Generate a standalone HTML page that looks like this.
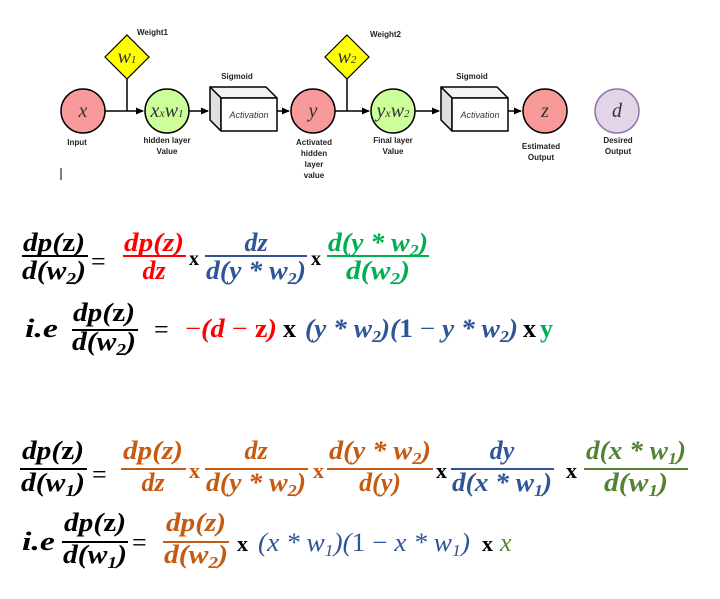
<!DOCTYPE html>
<html><head><meta charset="utf-8"><style>
body{margin:0;background:#fff;width:720px;height:599px;overflow:hidden}
svg{display:block}
.lb{font-family:"Liberation Sans",sans-serif;font-weight:bold;font-size:8px;fill:#222}
.m{font-family:"Liberation Serif",serif;font-weight:bold;font-style:italic;font-size:26px}
.u{font-style:normal}
.nd{font-family:"Liberation Serif",serif;font-style:italic;font-size:20px;fill:#333}
</style></head><body>
<svg width="720" height="599" viewBox="0 0 720 599" xmlns="http://www.w3.org/2000/svg">
<defs><marker id="ar" markerWidth="8" markerHeight="8" refX="7" refY="4" orient="auto" markerUnits="userSpaceOnUse"><path d="M0,0.5 L8,4 L0,7.5 Z" fill="#000"/></marker></defs>
<g stroke="#000" stroke-width="1.5" fill="none">
<line x1="105" y1="111" x2="143" y2="111" marker-end="url(#ar)"/>
<line x1="127" y1="79" x2="127" y2="111"/>
<line x1="189" y1="111" x2="208" y2="111" marker-end="url(#ar)"/>
<line x1="277" y1="111" x2="289" y2="111" marker-end="url(#ar)"/>
<line x1="335" y1="111" x2="369" y2="111" marker-end="url(#ar)"/>
<line x1="347" y1="79" x2="347" y2="111"/>
<line x1="415" y1="111" x2="439" y2="111" marker-end="url(#ar)"/>
<line x1="508" y1="111" x2="521" y2="111" marker-end="url(#ar)"/>
</g>
<circle cx="83" cy="111" r="22" fill="#f8999a" stroke="#000" stroke-width="1.5"/>
<text class="nd" x="83" y="117" text-anchor="middle">x</text>
<polygon points="127,35 149,57 127,79 105,57" fill="#ffff00" stroke="#000" stroke-width="1.2"/>
<text class="nd" x="127" y="63" text-anchor="middle" font-size="17">w<tspan font-size="11">1</tspan></text>
<circle cx="167" cy="111" r="22" fill="#ccff99" stroke="#000" stroke-width="1.5"/>
<text class="nd" x="167" y="117" text-anchor="middle" font-size="17">x<tspan font-size="12">x</tspan>w<tspan font-size="11">1</tspan></text>
<g stroke="#000" stroke-width="1.5" stroke-linejoin="round">
<polygon points="210,87 266,87 277,98 221,98" fill="#f2f2f2"/>
<polygon points="210,87 221,98 221,131 210,120" fill="#e0e0e0"/>
<rect x="221" y="98" width="56" height="33" fill="#fff"/>
<polygon points="441,87 497,87 508,98 452,98" fill="#f2f2f2"/>
<polygon points="441,87 452,98 452,131 441,120" fill="#e0e0e0"/>
<rect x="452" y="98" width="56" height="33" fill="#fff"/>
</g>
<text x="249" y="118" text-anchor="middle" font-family="Liberation Sans,sans-serif" font-style="italic" font-size="9" fill="#333">Activation</text>
<text x="480" y="118" text-anchor="middle" font-family="Liberation Sans,sans-serif" font-style="italic" font-size="9" fill="#333">Activation</text>
<circle cx="313" cy="111" r="22" fill="#f8999a" stroke="#000" stroke-width="1.5"/>
<text class="nd" x="313" y="117" text-anchor="middle">y</text>
<polygon points="347,35 369,57 347,79 325,57" fill="#ffff00" stroke="#000" stroke-width="1.2"/>
<text class="nd" x="347" y="63" text-anchor="middle" font-size="17">w<tspan font-size="11">2</tspan></text>
<circle cx="393" cy="111" r="22" fill="#ccff99" stroke="#000" stroke-width="1.5"/>
<text class="nd" x="393" y="117" text-anchor="middle" font-size="17">y<tspan font-size="12">x</tspan>w<tspan font-size="11">2</tspan></text>
<circle cx="545" cy="111" r="22" fill="#f8999a" stroke="#000" stroke-width="1.5"/>
<text class="nd" x="545" y="117" text-anchor="middle">z</text>
<circle cx="617" cy="111" r="22" fill="#e1d5e7" stroke="#9673a6" stroke-width="1.5"/>
<text class="nd" x="617" y="117" text-anchor="middle">d</text>
<text class="lb" x="137" y="35">Weight1</text>
<text class="lb" x="370" y="37">Weight2</text>
<text class="lb" x="237" y="79" text-anchor="middle">Sigmoid</text>
<text class="lb" x="472" y="79" text-anchor="middle">Sigmoid</text>
<text class="lb" x="77" y="145" text-anchor="middle">Input</text>
<text class="lb" x="167" y="143" text-anchor="middle">hidden layer</text>
<text class="lb" x="167" y="154" text-anchor="middle">Value</text>
<text class="lb" x="314" y="145" text-anchor="middle">Activated</text>
<text class="lb" x="314" y="156" text-anchor="middle">hidden</text>
<text class="lb" x="314" y="167" text-anchor="middle">layer</text>
<text class="lb" x="314" y="178" text-anchor="middle">value</text>
<text class="lb" x="393" y="143" text-anchor="middle">Final layer</text>
<text class="lb" x="393" y="154" text-anchor="middle">Value</text>
<text class="lb" x="541" y="149" text-anchor="middle">Estimated</text>
<text class="lb" x="541" y="160" text-anchor="middle">Output</text>
<text class="lb" x="618" y="143" text-anchor="middle">Desired</text>
<text class="lb" x="618" y="154" text-anchor="middle">Output</text>
<line x1="61" y1="168" x2="61" y2="180" stroke="#000" stroke-width="1"/>

<g class="m">
<text x="54" y="251" text-anchor="middle" fill="#000" textLength="62" lengthAdjust="spacingAndGlyphs">dp(<tspan class="u">z</tspan>)</text>
<rect x="22" y="255" width="66" height="2" fill="#000"/>
<text x="54" y="279" text-anchor="middle" fill="#000" textLength="64" lengthAdjust="spacingAndGlyphs">d(w<tspan font-size="17" dy="5">2</tspan><tspan dy="-5">)</tspan></text>
<text x="91" y="270" fill="#000" class="u" font-weight="normal">=</text>
<text x="154" y="251" text-anchor="middle" fill="#f00" textLength="60" lengthAdjust="spacingAndGlyphs">dp(z)</text>
<rect x="123" y="255" width="63" height="2" fill="#f00"/>
<text x="154" y="279" text-anchor="middle" fill="#f00">dz</text>
<text x="189" y="265" fill="#000" class="u" font-size="20">x</text>
<text x="256" y="251" text-anchor="middle" fill="#2f5597">dz</text>
<rect x="205" y="255" width="102" height="2" fill="#2f5597"/>
<text x="256" y="279" text-anchor="middle" fill="#2f5597" textLength="100" lengthAdjust="spacingAndGlyphs">d(y * w<tspan font-size="17" dy="5">2</tspan><tspan dy="-5">)</tspan></text>
<text x="311" y="265" fill="#000" class="u" font-size="20">x</text>
<text x="378" y="251" text-anchor="middle" fill="#00b050" textLength="100" lengthAdjust="spacingAndGlyphs">d(y * w<tspan font-size="17" dy="5">2</tspan><tspan dy="-5">)</tspan></text>
<rect x="327" y="255" width="102" height="2" fill="#00b050"/>
<text x="378" y="279" text-anchor="middle" fill="#00b050" textLength="64" lengthAdjust="spacingAndGlyphs">d(w<tspan font-size="17" dy="5">2</tspan><tspan dy="-5">)</tspan></text>
</g>
<g class="m">
<text x="25" y="337" fill="#000" textLength="33" lengthAdjust="spacingAndGlyphs">i.e</text>
<text x="104" y="321" text-anchor="middle" fill="#000" textLength="62" lengthAdjust="spacingAndGlyphs">dp(<tspan class="u">z</tspan>)</text>
<rect x="72" y="329" width="66" height="2" fill="#000"/>
<text x="104" y="350" text-anchor="middle" fill="#000" textLength="64" lengthAdjust="spacingAndGlyphs">d(w<tspan font-size="17" dy="5">2</tspan><tspan dy="-5">)</tspan></text>
<text x="154" y="338" fill="#000" class="u" font-weight="normal">=</text>
<text x="185" y="337" fill="#f00" textLength="92" lengthAdjust="spacingAndGlyphs"><tspan class="u" font-weight="normal">−</tspan>(d <tspan class="u" font-weight="normal">−</tspan> <tspan class="u">z</tspan>)</text>
<text x="283" y="337" fill="#000" class="u">x</text>
<text x="305" y="337" fill="#2f5597" textLength="213" lengthAdjust="spacingAndGlyphs">(y * w<tspan font-size="17" dy="5">2</tspan><tspan dy="-5">)(</tspan><tspan class="u">1</tspan> <tspan class="u" font-weight="normal">−</tspan> y * w<tspan font-size="17" dy="5">2</tspan><tspan dy="-5">)</tspan></text>
<text x="523" y="337" fill="#000" class="u">x</text>
<text x="540" y="337" fill="#00b050" class="u">y</text>
</g>
<g class="m">
<text x="53" y="459" text-anchor="middle" fill="#000" textLength="62" lengthAdjust="spacingAndGlyphs">dp(<tspan class="u">z</tspan>)</text>
<rect x="20" y="468" width="67" height="2" fill="#000"/>
<text x="53" y="491" text-anchor="middle" fill="#000" textLength="64" lengthAdjust="spacingAndGlyphs">d(w<tspan font-size="17" dy="5">1</tspan><tspan dy="-5">)</tspan></text>
<text x="92" y="483" fill="#000" class="u" font-weight="normal">=</text>
<text x="153" y="459" text-anchor="middle" fill="#c55a11" textLength="60" lengthAdjust="spacingAndGlyphs">dp(z)</text>
<rect x="121" y="468" width="65" height="2" fill="#c55a11"/>
<text x="153" y="491" text-anchor="middle" fill="#c55a11">dz</text>
<text x="189" y="478" fill="#c55a11" class="u" font-size="22">x</text>
<text x="256" y="459" text-anchor="middle" fill="#c55a11">dz</text>
<rect x="205" y="468" width="103" height="2" fill="#c55a11"/>
<text x="256" y="491" text-anchor="middle" fill="#c55a11" textLength="100" lengthAdjust="spacingAndGlyphs">d(y * w<tspan font-size="17" dy="5">2</tspan><tspan dy="-5">)</tspan></text>
<text x="313" y="478" fill="#c55a11" class="u" font-size="22">x</text>
<text x="380" y="459" text-anchor="middle" fill="#c55a11" textLength="102" lengthAdjust="spacingAndGlyphs">d(y * w<tspan font-size="17" dy="5">2</tspan><tspan dy="-5">)</tspan></text>
<rect x="327" y="468" width="106" height="2" fill="#c55a11"/>
<text x="380" y="491" text-anchor="middle" fill="#c55a11">d(y)</text>
<text x="436" y="478" fill="#000" class="u" font-size="22">x</text>
<text x="502" y="459" text-anchor="middle" fill="#2f5597">dy</text>
<rect x="451" y="468" width="103" height="2" fill="#2f5597"/>
<text x="502" y="491" text-anchor="middle" fill="#2f5597" textLength="100" lengthAdjust="spacingAndGlyphs">d(x * w<tspan font-size="17" dy="5">1</tspan><tspan dy="-5">)</tspan></text>
<text x="566" y="478" fill="#000" class="u" font-size="22">x</text>
<text x="636" y="459" text-anchor="middle" fill="#548235" textLength="100" lengthAdjust="spacingAndGlyphs">d(x * w<tspan font-size="17" dy="5">1</tspan><tspan dy="-5">)</tspan></text>
<rect x="584" y="468" width="104" height="2" fill="#548235"/>
<text x="636" y="491" text-anchor="middle" fill="#548235" textLength="64" lengthAdjust="spacingAndGlyphs">d(w<tspan font-size="17" dy="5">1</tspan><tspan dy="-5">)</tspan></text>
</g>
<g class="m">
<text x="22" y="550" fill="#000" textLength="33" lengthAdjust="spacingAndGlyphs">i.e</text>
<text x="95" y="531" text-anchor="middle" fill="#000" textLength="62" lengthAdjust="spacingAndGlyphs">dp(<tspan class="u">z</tspan>)</text>
<rect x="62" y="541" width="66" height="2" fill="#000"/>
<text x="95" y="563" text-anchor="middle" fill="#000" textLength="64" lengthAdjust="spacingAndGlyphs">d(w<tspan font-size="17" dy="5">1</tspan><tspan dy="-5">)</tspan></text>
<text x="132" y="551" fill="#000" class="u" font-weight="normal">=</text>
<text x="196" y="531" text-anchor="middle" fill="#c55a11" textLength="60" lengthAdjust="spacingAndGlyphs">dp(z)</text>
<rect x="163" y="541" width="66" height="2" fill="#c55a11"/>
<text x="196" y="563" text-anchor="middle" fill="#c55a11" textLength="64" lengthAdjust="spacingAndGlyphs">d(w<tspan font-size="17" dy="5">2</tspan><tspan dy="-5">)</tspan></text>
<text x="237" y="551" fill="#000" class="u" font-size="22">x</text>
<text x="258" y="551" fill="#2f5597" textLength="212" lengthAdjust="spacingAndGlyphs" font-weight="normal">(x * w<tspan font-size="17" dy="5">1</tspan><tspan dy="-5">)(</tspan><tspan class="u">1</tspan> <tspan class="u">−</tspan> x * w<tspan font-size="17" dy="5">1</tspan><tspan dy="-5">)</tspan></text>
<text x="482" y="551" fill="#000" class="u" font-size="22">x</text>
<text x="500" y="551" fill="#548235" font-weight="normal">x</text>
</g>
</svg>
</body></html>
